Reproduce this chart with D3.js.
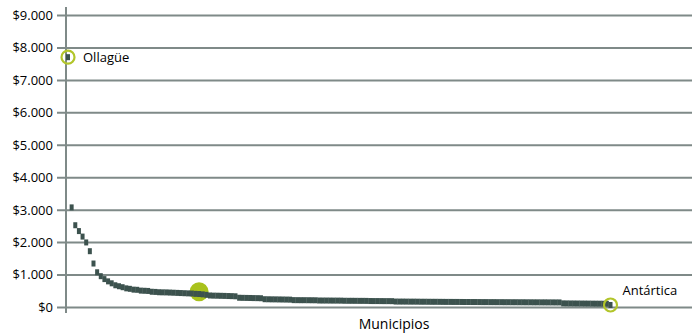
<!DOCTYPE html>
<html>
<head>
<meta charset="utf-8">
<script src="https://cdn.jsdelivr.net/npm/d3@7"></script>
<style>
  html, body { margin: 0; padding: 0; background: #ffffff; }
  svg { display: block; }
  text { font-family: "Open Sans", "Noto Sans", sans-serif; fill: #000; }
</style>
</head>
<body>
<svg id="chart" width="692" height="333"></svg>
<script>
// ---- Data ----
const tickValues = [0, 1000, 2000, 3000, 4000, 5000, 6000, 7000, 8000, 9000];
const tickLabels = ["$0", "$1.000", "$2.000", "$3.000", "$4.000", "$5.000", "$6.000", "$7.000", "$8.000", "$9.000"];

// Spending per municipality, sorted from highest to lowest (one value per municipio)
const values = [
  7700, 3070, 2520, 2340, 2170, 1990, 1720, 1340, 1070, 950,
  860, 790, 730, 670, 640, 610, 575, 560, 535, 530,
  505, 500, 495, 470, 465, 455, 452, 450, 445, 440,
  435, 430, 425, 420, 415, 405, 400, 390, 375, 355,
  350, 348, 345, 342, 338, 335, 330, 285, 282, 280,
  278, 275, 273, 270, 240, 238, 236, 235, 233, 231,
  229, 227, 212, 211, 210, 210, 209, 208, 207, 200,
  199, 199, 198, 197, 197, 196, 192, 191, 191, 190,
  189, 189, 188, 184, 183, 183, 182, 181, 181, 180,
  168, 167, 167, 166, 165, 165, 164, 162, 162, 161,
  160, 160, 159, 158, 157, 157, 156, 156, 155, 154,
  154, 153, 153, 152, 151, 151, 150, 150, 149, 149,
  148, 148, 147, 147, 146, 146, 145, 145, 144, 144,
  143, 143, 142, 142, 141, 141, 112, 110, 109, 108,
  107, 106, 105, 104, 103, 102, 101, 100, 98, 62
];
const highlightLabels = [
  { name: "Ollagüe", index: 0 },
  { name: "Antártica", index: values.length - 1 }
];
const highlightPoint = { index: 36, value: 470 };
const xTitle = "Municipios";

// ---- Drawing ----
const svg = d3.select("#chart");
const gridColor = "#7f8a88";
const markColor = "#3c524e";
const green = "#b2c52a";
const greenFill = "#a9c21c";

const y = d3.scaleLinear().domain([0, 9000]).range([307, 15]);
const x = d3.scaleLinear().domain([0, values.length - 1]).range([68, 610.5]);

// Grid lines + y axis labels
const yAxis = d3.axisLeft(y)
  .tickValues(tickValues)
  .tickFormat((d, i) => tickLabels[i])
  .tickSize(-(692 - 57))
  .tickPadding(4);

const gAxis = svg.append("g").attr("transform", "translate(57,0)").call(yAxis);
gAxis.select(".domain").remove();
gAxis.selectAll(".tick line").attr("stroke", gridColor).attr("stroke-width", 2);
gAxis.selectAll(".tick text")
  .attr("x", -4)
  .attr("dy", "0.34em")
  .style("font-size", "13px")
  .style("font-family", "'Open Sans', sans-serif")
  .attr("fill", "#000");

// vertical axis line
svg.append("line")
  .attr("x1", 66).attr("x2", 66)
  .attr("y1", 7).attr("y2", 313)
  .attr("stroke", gridColor).attr("stroke-width", 2);

// Highlight filled circle
svg.append("circle")
  .attr("cx", x(highlightPoint.index))
  .attr("cy", y(highlightPoint.value))
  .attr("r", 9.5)
  .attr("fill", greenFill);

// Data markers
svg.append("g").selectAll("rect")
  .data(values)
  .join("rect")
  .attr("x", (d, i) => x(i) - 2)
  .attr("y", d => y(d) - 3)
  .attr("width", 4)
  .attr("height", 6)
  .attr("fill", markColor);

// Open circles on named municipalities
svg.append("g").selectAll("circle")
  .data(highlightLabels)
  .join("circle")
  .attr("cx", d => x(d.index))
  .attr("cy", d => y(values[d.index]))
  .attr("r", 6.5)
  .attr("fill", "none")
  .attr("stroke", green)
  .attr("stroke-width", 2.2);

// Labels
svg.append("text")
  .attr("x", x(highlightLabels[0].index) + 15)
  .attr("y", y(values[highlightLabels[0].index]) + 5)
  .style("font-size", "13px")
  .text(highlightLabels[0].name);

svg.append("text")
  .attr("x", x(highlightLabels[1].index) + 12)
  .attr("y", y(values[highlightLabels[1].index]) - 10)
  .style("font-size", "13px")
  .text(highlightLabels[1].name);

svg.append("text")
  .attr("x", 394)
  .attr("y", 329)
  .attr("text-anchor", "middle")
  .style("font-size", "14px")
  .text(xTitle);
</script>
</body>
</html>
